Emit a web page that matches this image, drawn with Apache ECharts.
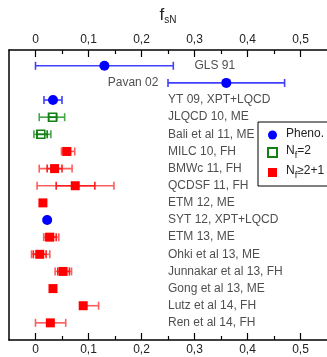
<!DOCTYPE html>
<html>
<head>
<meta charset="utf-8">
<script src="https://cdn.jsdelivr.net/npm/echarts@6/dist/echarts.min.js"></script>
<style>
  html, body { margin: 0; padding: 0; background: #fff; }
  #chart { width: 327px; height: 357px; }
</style>
</head>
<body>
<div id="chart"></div>
<script>
// rows from top to bottom
const rows = ['GLS 91', 'Pavan 02', 'YT 09, XPT+LQCD', 'JLQCD 10, ME', 'Bali et al 11, ME',
  'MILC 10, FH', 'BMWc 11, FH', 'QCDSF 11, FH', 'ETM 12, ME', 'SYT 12, XPT+LQCD',
  'ETM 13, ME', 'Ohki et al 13, ME', 'Junnakar et al 13, FH', 'Gong et al 13, ME',
  'Lutz et al 14, FH', 'Ren et al 14, FH'];
const kind = ['pheno', 'pheno', 'pheno', 'nf2', 'nf2', 'nf3', 'nf3', 'nf3', 'nf3', 'pheno',
  'nf3', 'nf3', 'nf3', 'nf3', 'nf3', 'nf3'];
const fsN = [0.13, 0.36, 0.033, 0.032, 0.010, 0.059, 0.036, 0.075, 0.014, 0.022,
  0.027, 0.008, 0.052, 0.033, 0.090, 0.028];
// total error range
const totLo = [0, 0.25, 0.016, 0.007, -0.003, 0.049, 0.007, 0.003, null, null,
  0.0155, -0.0075, 0.037, null, 0.088, 0];
const totHi = [0.26, 0.47, 0.050, 0.055, 0.029, 0.074, 0.069, 0.148, null, null,
  0.044, 0.027, 0.068, null, 0.119, 0.057];
// statistical error range
const statLo = [null, null, null, 0.025, 0.003, 0.053, 0.022, 0.039, null, null,
  0.019, -0.004, 0.042, null, null, null];
const statHi = [null, null, null, 0.040, 0.022, 0.066, 0.050, 0.112, null, null,
  0.039, 0.020, 0.064, null, null, null];
const xTicks = [0, 0.1, 0.2, 0.3, 0.4, 0.5];
const xMinor = [0.05, 0.15, 0.25, 0.35, 0.45];

const FONT = "'Liberation Sans', Arial, sans-serif";
const FS = 12;
const TXT = '#222';

const kinds = {
  pheno: { name: 'Pheno.', tot: '#4040ff', stat: '#2020ff' },
  nf2: { name: 'Nf=2', tot: '#44a844', stat: '#138013' },
  nf3: { name: 'Nf>=2+1', tot: '#ff5c5c', stat: '#ff1c1c' }
};

const errData = [];
rows.forEach((r, i) => {
  if (totLo[i] != null) errData.push({ value: [totLo[i], totHi[i], i], color: kinds[kind[i]].tot });
  if (statLo[i] != null) errData.push({ value: [statLo[i], statHi[i], i], color: kinds[kind[i]].stat });
});

function pts(k) {
  return rows.map((r, i) => (kind[i] === k ? [fsN[i], i] : null)).filter(Boolean);
}

// where each row label sits (x in data units) and on which side
const labelPos = rows.map((r, i) => {
  if (i === 0) return { x: 0.300, side: 'right' };
  if (i === 1) return { x: 0.232, side: 'left' };
  return { x: 0.250, side: 'right' };
});

const chart = echarts.init(document.getElementById('chart'));

const fmt = v => (v === 0 ? '0' : String(v).replace('.', ','));
const tickStyle = { color: '#000', width: 1.2 };
const axisBase = {
  type: 'value', min: -0.05, max: 0.55, splitLine: { show: false },
  axisLine: { onZero: false, lineStyle: { color: '#000', width: 1.5 } }
};
const lbl = { customValues: xTicks, formatter: fmt, margin: 4, fontFamily: FONT, fontSize: FS, color: TXT };
const yBase = {
  type: 'value', inverse: true, min: -0.92, max: 16.0,
  axisTick: { show: false }, axisLabel: { show: false }, splitLine: { show: false }
};

chart.setOption({
  animation: false,
  // second grid only carries the minor ticks
  grid: [
    { left: 9, right: -4, top: 50, bottom: 17, containLabel: false },
    { left: 9, right: -4, top: 50, bottom: 17, containLabel: false }
  ],
  xAxis: [
    Object.assign({}, axisBase, {
      gridIndex: 0, position: 'top',
      name: '{f|f}{s|sN}', nameLocation: 'middle', nameGap: 25,
      nameTextStyle: {
        rich: {
          f: { fontFamily: FONT, fontSize: 17, color: TXT, verticalAlign: 'top' },
          s: { fontFamily: FONT, fontSize: 10, color: TXT, padding: [8, 0, 0, 0], verticalAlign: 'top' }
        }
      },
      axisTick: { inside: true, length: 7, customValues: xTicks, lineStyle: tickStyle },
      axisLabel: lbl
    }),
    Object.assign({}, axisBase, {
      gridIndex: 0, position: 'bottom',
      axisTick: { inside: true, length: 7, customValues: xTicks, lineStyle: tickStyle },
      axisLabel: lbl
    }),
    Object.assign({}, axisBase, {
      gridIndex: 1, position: 'top', axisLine: { show: false, onZero: false },
      axisTick: { inside: true, length: 4, customValues: xMinor, lineStyle: tickStyle },
      axisLabel: { show: false }
    }),
    Object.assign({}, axisBase, {
      gridIndex: 1, position: 'bottom', axisLine: { show: false, onZero: false },
      axisTick: { inside: true, length: 4, customValues: xMinor, lineStyle: tickStyle },
      axisLabel: { show: false }
    })
  ],
  yAxis: [
    Object.assign({}, yBase, {
      gridIndex: 0,
      axisLine: { show: true, onZero: false, lineStyle: { color: '#000', width: 1.5 } }
    }),
    Object.assign({}, yBase, { gridIndex: 1, axisLine: { show: false, onZero: false } })
  ],
  legend: {
    orient: 'vertical', left: 258, top: 122,
    borderColor: '#000', borderWidth: 1, padding: [6, 30, 6, 9],
    itemWidth: 9, itemHeight: 9, itemGap: 5,
    data: [kinds.pheno.name, kinds.nf2.name, kinds.nf3.name],
    formatter: n => {
      if (n === kinds.nf2.name) return '{n|N}{s|f}{n|=2}';
      if (n === kinds.nf3.name) return '{n|N}{s|f}{n|\u22652+1}';
      return '{n|' + n + '}';
    },
    textStyle: {
      padding: [0, 0, 0, 4],
      rich: {
        n: { fontFamily: FONT, fontSize: FS, color: TXT, lineHeight: 14, verticalAlign: 'top' },
        s: { fontFamily: FONT, fontSize: 9, color: TXT, padding: [6, 0, 0, 0], verticalAlign: 'top' }
      }
    }
  },
  series: [
    {
      type: 'custom', name: 'err', xAxisIndex: 0, yAxisIndex: 0, data: errData, z: 2,
      renderItem: (params, api) => {
        const c = errData[params.dataIndex].color;
        const a = api.coord([api.value(0), api.value(2)]);
        const b = api.coord([api.value(1), api.value(2)]);
        const h = 4;
        const style = { stroke: c, lineWidth: 1.6 };
        return {
          type: 'group', children: [
            { type: 'line', shape: { x1: a[0], y1: a[1], x2: b[0], y2: b[1] }, style },
            { type: 'line', shape: { x1: a[0], y1: a[1] - h, x2: a[0], y2: a[1] + h }, style },
            { type: 'line', shape: { x1: b[0], y1: b[1] - h, x2: b[0], y2: b[1] + h }, style }
          ]
        };
      }
    },
    {
      type: 'scatter', name: kinds.pheno.name, data: pts('pheno'), z: 3,
      symbol: 'circle', symbolSize: 10, itemStyle: { color: '#0000ff', opacity: 1 }
    },
    {
      type: 'scatter', name: kinds.nf2.name, data: pts('nf2'), z: 3,
      symbol: 'rect', symbolSize: 8,
      itemStyle: { color: 'transparent', borderColor: '#138013', borderWidth: 1.5, opacity: 1 }
    },
    {
      type: 'scatter', name: kinds.nf3.name, data: pts('nf3'), z: 3,
      symbol: 'rect', symbolSize: 9, itemStyle: { color: '#ff0000', opacity: 1 }
    },
    {
      type: 'scatter', name: 'labels', symbolSize: 0, silent: true,
      data: labelPos.map((p, i) => ({
        value: [p.x, i],
        label: { position: p.side }
      })),
      label: {
        show: true, distance: 0, fontFamily: FONT, fontSize: FS, color: TXT,
        formatter: p => rows[p.dataIndex]
      }
    }
  ]
});
</script>
</body>
</html>
